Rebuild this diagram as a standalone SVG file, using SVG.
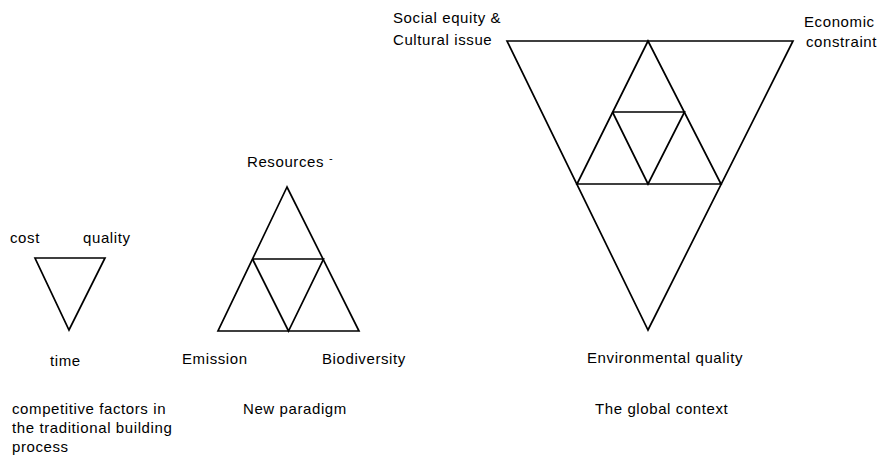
<svg xmlns="http://www.w3.org/2000/svg" width="879" height="463" viewBox="0 0 879 463">
<style>
text{font-family:"Liberation Sans",Arial,sans-serif;font-size:15px;letter-spacing:0.6px;fill:#000}
.ln{fill:none;stroke:#000;stroke-width:1.7;stroke-linejoin:miter}
</style>
<rect width="879" height="463" fill="#fff"/>
<g id="connectors">
</g>
<g id="traditional">
<polygon class="ln" points="35,258 105,258 69,330"/>
<text x="10" y="243">cost</text>
<text x="83" y="243">quality</text>
<text x="50" y="366">time</text>
<text x="12" y="414">competitive factors in</text>
<text x="12" y="433">the traditional building</text>
<text x="12" y="452">process</text>
</g>
<g id="paradigm">
<polygon class="ln" points="287,187 218,331 359,331"/>
<polyline class="ln" points="252.5,259 323.5,259 288.5,331 252.5,259"/>
<text x="247" y="167">Resources <tspan dy="-5" font-size="11">-</tspan></text>
<text x="182" y="364">Emission</text>
<text x="322" y="364">Biodiversity</text>
<text x="243" y="414">New paradigm</text>
</g>
<g id="global">
<polygon class="ln" points="507,41 793,41 648,330"/>
<polygon class="ln" points="648,41 577,184 721,184"/>
<polyline class="ln" points="612.5,112 684.5,112 648,184 612.5,112"/>
<text x="393" y="23">Social equity &amp;</text>
<text x="393" y="45">Cultural issue</text>
<text x="804" y="27">Economic</text>
<text x="806" y="47">constraint</text>
<text x="587" y="363">Environmental quality</text>
<text x="595" y="414">The global context</text>
</g>
</svg>
